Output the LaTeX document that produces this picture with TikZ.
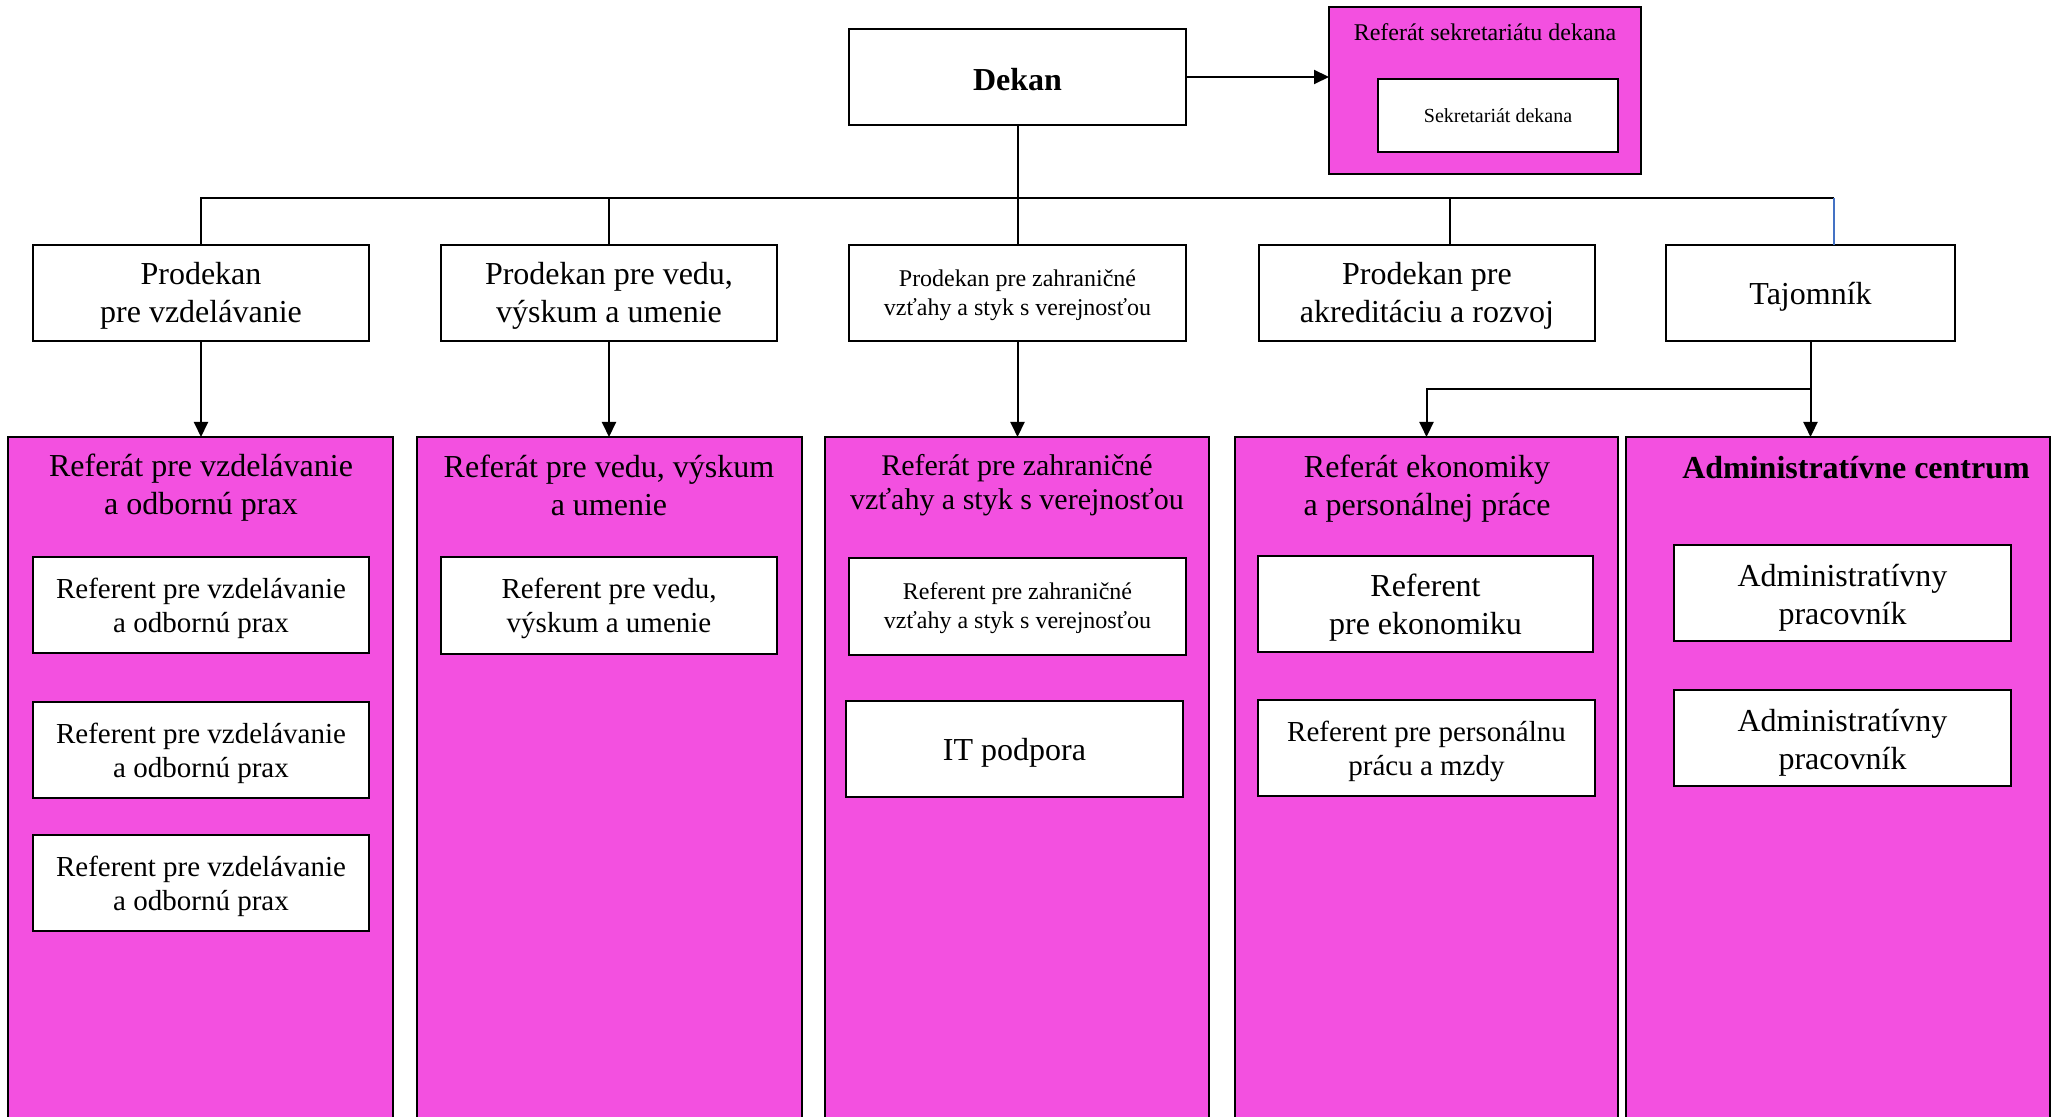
\documentclass[tikz,border=0pt]{standalone}
\usepackage{fontspec}
\setmainfont{Liberation Serif}
\usetikzlibrary{arrows.meta}
\definecolor{mag}{RGB}{243,80,224}
\definecolor{tblue}{RGB}{68,114,196}
\newcommand{\fsA}{\fontsize{16}{19}\selectfont}
\newcommand{\fsB}{\fontsize{14.5}{17}\selectfont}
\newcommand{\fsC}{\fontsize{12}{14.5}\selectfont}
\newcommand{\fsD}{\fontsize{10}{12}\selectfont}
\newcommand{\fsE}{\fontsize{15}{17}\selectfont}
% name, x1, y1, x2, y2, style, text, text shift (px, downwards)
\newcommand{\bx}[8]{%
  \node[#6, minimum width={(#4-#2)*0.5pt}, minimum height={(#5-#3)*0.5pt}] (#1) at ({(#2+#4)/2},{(#3+#5)/2}) {};
  \node[#6, draw=none, fill=none] (#1t) at ({(#2+#4)/2},{(#3+#5)/2+#8}) {#7};}
\begin{document}
\begin{tikzpicture}[x=0.5pt,y=-0.5pt,
  wbox/.style={draw=black, line width=0.75pt, fill=white, inner sep=0pt, outer sep=0pt, align=center},
  mbox/.style={draw=black, line width=0.75pt, fill=mag, inner sep=0pt, outer sep=0pt},
  ttl/.style={inner sep=0pt, align=center},
  conn/.style={line width=1pt, black},
  arr/.style={conn, -{Triangle[length=7.5pt,width=7pt]}}]
\useasboundingbox (0,0) rectangle (2055,1117);
\fill[white] (0,0) rectangle (2055,1117);

% top
\bx{dekan}{849}{29}{1186}{125}{wbox,font=\fsA}{\textbf{Dekan}}{3}
\bx{sek}{1329}{7}{1641}{174}{mbox}{}{0}
\node[ttl,font=\fsC] (sekt) at (1485,32) {Referát sekretariátu dekana};
\bx{sekin}{1378}{79}{1618}{152}{wbox,font=\fsD}{Sekretariát dekana}{0.5}

% prodekani
\bx{p1}{33}{245}{369}{341}{wbox,font=\fsA}{Prodekan\\pre vzdelávanie}{3}
\bx{p2}{441}{245}{777}{341}{wbox,font=\fsA}{Prodekan pre vedu,\\výskum a umenie}{3}
\bx{p3}{849}{245}{1186}{341}{wbox,font=\fsC}{Prodekan pre zahraničné\\vzťahy a styk s verejnosťou}{2.5}
\bx{p4}{1259}{245}{1595}{341}{wbox,font=\fsA}{Prodekan pre\\akreditáciu a rozvoj}{3}
\bx{taj}{1666}{245}{1955}{341}{wbox,font=\fsA}{Tajomník}{4}

% referaty
\bx{r1}{8}{437}{393}{1135}{mbox}{}{0}
\bx{r2}{417}{437}{802}{1135}{mbox}{}{0}
\bx{r3}{825}{437}{1209}{1135}{mbox}{}{0}
\bx{r4}{1235}{437}{1618}{1135}{mbox}{}{0}
\bx{r5}{1626}{437}{2050}{1135}{mbox}{}{0}

\node[ttl,font=\fsA] (r1t) at (201,488) {Referát pre vzdelávanie\\a odbornú prax};
\node[ttl,font=\fsA] (r2t) at (609,485.5) {Referát pre vedu, výskum\\a umenie};
\node[ttl,font=\fsE] (r3t) at (1017,485) {Referát pre zahraničné\\vzťahy a styk s verejnosťou};
\node[ttl,font=\fsA] (r4t) at (1427,488.5) {Referát ekonomiky\\a personálnej práce};
\node[ttl,font=\fsA] (r5t) at (1856,467.5) {\textbf{Administratívne centrum}};

% inner boxes
\bx{r1a}{33}{557}{369}{653}{wbox,font=\fsB}{Referent pre vzdelávanie\\a odbornú prax}{3}
\bx{r1b}{33}{702}{369}{798}{wbox,font=\fsB}{Referent pre vzdelávanie\\a odbornú prax}{3}
\bx{r1c}{33}{835}{369}{931}{wbox,font=\fsB}{Referent pre vzdelávanie\\a odbornú prax}{3}
\bx{r2a}{441}{557}{777}{654}{wbox,font=\fsB}{Referent pre vedu,\\výskum a umenie}{3}
\bx{r3a}{849}{558}{1186}{655}{wbox,font=\fsC}{Referent pre zahraničné\\vzťahy a styk s verejnosťou}{2}
\bx{r3b}{846}{701}{1183}{797}{wbox,font=\fsA}{IT podpora}{4}
\bx{r4a}{1258}{556}{1593}{652}{wbox,font=\fsA}{Referent\\pre ekonomiku}{4}
\bx{r4b}{1258}{700}{1595}{796}{wbox,font=\fsB}{Referent pre personálnu\\prácu a mzdy}{3}
\bx{r5a}{1674}{545}{2011}{641}{wbox,font=\fsA}{Administratívny\\pracovník}{4.5}
\bx{r5b}{1674}{690}{2011}{786}{wbox,font=\fsA}{Administratívny\\pracovník}{4.5}

% connectors
\coordinate (busL) at (201,198);
\coordinate (busR) at (1834,198);
\coordinate (p4c) at (1450,245);
\coordinate (tajc) at (1834,245);
\coordinate (tajj) at (1810,389);
\draw[conn] (p1.north) -- (busL) -- (busR);
\draw[conn] (dekan.south) -- (p3.north);
\draw[conn] (p2.north) -- (p2.north |- busL);
\draw[conn] (p4c) -- (p4c |- busL);
\draw[tblue, line width=0.6pt] (busR) -- (tajc);
\draw[arr] (dekan.east) -- (dekan.east -| sek.west);
\draw[arr] (p1.south) -- (p1.south |- r1.north);
\draw[arr] (p2.south) -- (p2.south |- r2.north);
\draw[arr] (p3.south) -- (p3.south |- r3.north);
\draw[arr] (taj.south) -- (taj.south |- r5.north);
\draw[arr] (taj.south |- tajj) -| (r4.north);
\end{tikzpicture}
\end{document}
